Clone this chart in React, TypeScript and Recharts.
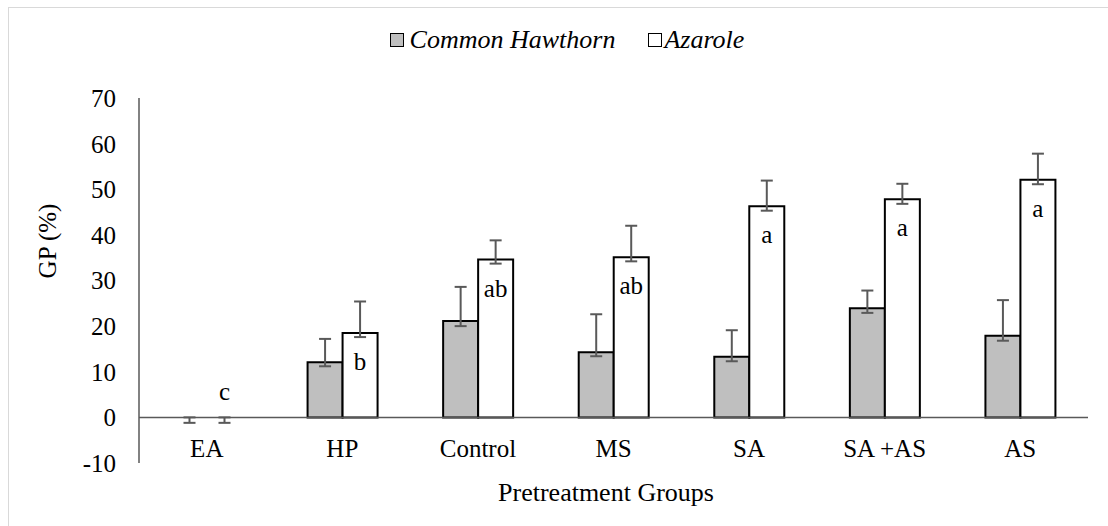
import { BarChart, Bar, XAxis, YAxis, ErrorBar, LabelList, ReferenceLine, Cell } from "recharts";

const categories = ["EA", "HP", "Control", "MS", "SA", "SA +AS", "AS"];
const hawthorn = [0, 12.1, 21.1, 14.3, 13.3, 23.9, 17.9];
const hawthornLow = [-1.2, 11.2, 20.0, 13.4, 12.3, 22.9, 16.8];
const hawthornHigh = [0, 17.2, 28.6, 22.6, 19.1, 27.8, 25.7];
const azarole = [0, 18.5, 34.6, 35.1, 46.3, 47.8, 52.1];
const azaroleLow = [-1.2, 17.6, 33.7, 34.2, 45.3, 46.8, 51.1];
const azaroleHigh = [0, 25.4, 38.8, 42.0, 51.9, 51.2, 57.8];
const letters = ["c", "b", "ab", "ab", "a", "a", "a"];
const yTicks = [-10, 0, 10, 20, 30, 40, 50, 60, 70];

const FONT = "Liberation Serif, serif";
const AXIS = "#595959";
const FS = 25;

const data = categories.map((name, i) => ({
  name,
  hawthorn: hawthorn[i],
  hawthornErr: [hawthorn[i] - hawthornLow[i], hawthornHigh[i] - hawthorn[i]],
  azarole: azarole[i],
  azaroleErr: [azarole[i] - azaroleLow[i], azaroleHigh[i] - azarole[i]],
  letter: letters[i],
}));

const CategoryTick = (props: any) => {
  const { x, y, payload } = props;
  return (
    <text x={x} y={y - 14} textAnchor="middle" fontSize={FS} fontFamily={FONT} fill="#000">
      {payload.value}
    </text>
  );
};

// significance letters: inside the bar top, or above when the bar is empty
const LetterLabel = (props: any) => {
  const { x, y, width, value, height } = props;
  const inside = Math.abs(height) > 2;
  return (
    <text
      x={x + width / 2}
      y={inside ? y + 37 : y - 16}
      textAnchor="middle"
      fontSize={FS}
      fontFamily={FONT}
      fill="#000"
    >
      {value}
    </text>
  );
};

const YTitle = () => (
  <text x={56} y={241} transform="rotate(-90 56 241)" textAnchor="middle" fontSize={FS} fontFamily={FONT} fill="#000">
    GP (%)
  </text>
);

const XTitle = () => (
  <text x={606} y={501} textAnchor="middle" fontSize={26} fontFamily={FONT} fill="#000">
    Pretreatment Groups
  </text>
);

export default function App() {
  return (
    <div style={{ position: "absolute", left: 0, top: 0, width: 1108, height: 526, background: "#fff", overflow: "hidden", fontFamily: FONT }}>
      <div style={{ position: "absolute", left: 8, top: 7, width: 1120, height: 540, border: "1px solid #d9d9d9", boxSizing: "border-box" }} />
      {/* Legend */}
      <div style={{ position: "absolute", top: 25, left: 0, width: 1108, display: "flex", justifyContent: "center", alignItems: "center", fontSize: 26, fontStyle: "italic", fontFamily: FONT }}>
        <div style={{ display: "flex", alignItems: "center", marginLeft: 26 }}>
          <div style={{ width: 14, height: 14, background: "#bfbfbf", border: "1px solid #000", boxSizing: "border-box", marginRight: 6 }} />
          <span>Common Hawthorn</span>
        </div>
        <div style={{ display: "flex", alignItems: "center", marginLeft: 33 }}>
          <div style={{ width: 14, height: 14, background: "#fff", border: "1px solid #000", boxSizing: "border-box", marginRight: 2 }} />
          <span>Azarole</span>
        </div>
      </div>
      <div style={{ position: "absolute", left: 0, top: 0 }}>
        <BarChart
          width={1108}
          height={526}
          data={data}
          margin={{ top: 98, right: 20, bottom: 3, left: 59 }}
          barCategoryGap={33}
          barGap={0}
        >
          <XAxis
            dataKey="name"
            axisLine={false}
            tickLine={false}
            height={60}
            tick={<CategoryTick />}
            interval={0}
            label={<XTitle />}
          />
          <YAxis
            domain={[-10, 70]}
            ticks={yTicks}
            width={80}
            tickLine={false}
            tickSize={0}
            tickMargin={23}
            axisLine={{ stroke: AXIS, strokeWidth: 1.5 }}
            tick={{ fontSize: FS, fontFamily: FONT, fill: "#000" }}
            label={<YTitle />}
          />
          <ReferenceLine y={0} stroke={AXIS} strokeWidth={1.5} />
          <Bar dataKey="hawthorn" fill="#bfbfbf" stroke="#000" strokeWidth={2} minPointSize={1} isAnimationActive={false}>
            {data.map((d, i) => (
              <Cell key={i} stroke={d.hawthorn === 0 ? "none" : "#000"} fill={d.hawthorn === 0 ? "none" : "#bfbfbf"} />
            ))}
            <ErrorBar dataKey="hawthornErr" width={6} stroke={AXIS} strokeWidth={2} direction="y" />
          </Bar>
          <Bar dataKey="azarole" fill="#ffffff" stroke="#000" strokeWidth={2} minPointSize={1} isAnimationActive={false}>
            {data.map((d, i) => (
              <Cell key={i} stroke={d.azarole === 0 ? "none" : "#000"} fill={d.azarole === 0 ? "none" : "#ffffff"} />
            ))}
            <ErrorBar dataKey="azaroleErr" width={6} stroke={AXIS} strokeWidth={2} direction="y" />
            <LabelList dataKey="letter" content={<LetterLabel />} />
          </Bar>
        </BarChart>
      </div>
    </div>
  );
}
